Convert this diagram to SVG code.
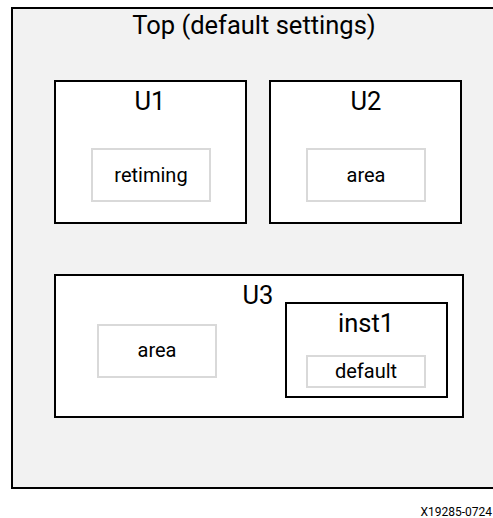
<svg xmlns="http://www.w3.org/2000/svg" width="493" height="518" viewBox="0 0 493 518">
<style>
text{font-family:Roboto,"Liberation Sans",sans-serif;fill:#000;text-anchor:middle}
.big{font-size:25.5px}
.small{font-size:20px}
.blk{fill:#fff;stroke:#000;stroke-width:2}
.gry{fill:#fff;stroke:#d9d9d9;stroke-width:2}
</style>
<g id="top">
<rect x="12" y="8" width="490" height="480" fill="#f2f2f2" stroke="#000" stroke-width="2"/>
<text class="big" x="254" y="34">Top (default settings)</text>
</g>
<g id="U1">
<rect class="blk" x="55" y="81" width="191" height="142"/>
<text class="big" x="150" y="110">U1</text>
<g id="U1-retiming">
<rect class="gry" x="92" y="149" width="118" height="52"/>
<text class="small" x="151" y="182">retiming</text>
</g>
</g>
<g id="U2">
<rect class="blk" x="270" y="81" width="191" height="142"/>
<text class="big" x="366" y="110">U2</text>
<g id="U2-area">
<rect class="gry" x="307" y="149" width="118" height="52"/>
<text class="small" x="366" y="182">area</text>
</g>
</g>
<g id="U3">
<rect class="blk" x="55" y="275" width="408" height="142"/>
<text class="big" x="258" y="304">U3</text>
<g id="U3-area">
<rect class="gry" x="98" y="325" width="118" height="52"/>
<text class="small" x="157" y="357">area</text>
</g>
<g id="inst1">
<rect class="blk" x="286" y="303" width="161" height="94"/>
<text class="big" x="366" y="332">inst1</text>
<g id="inst1-default">
<rect class="gry" x="307" y="356" width="118" height="31"/>
<text class="small" x="366" y="378">default</text>
</g>
</g>
</g>
<g id="connectors"/>
<text x="492" y="516" font-size="12" style="text-anchor:end">X19285-0724</text>
</svg>
